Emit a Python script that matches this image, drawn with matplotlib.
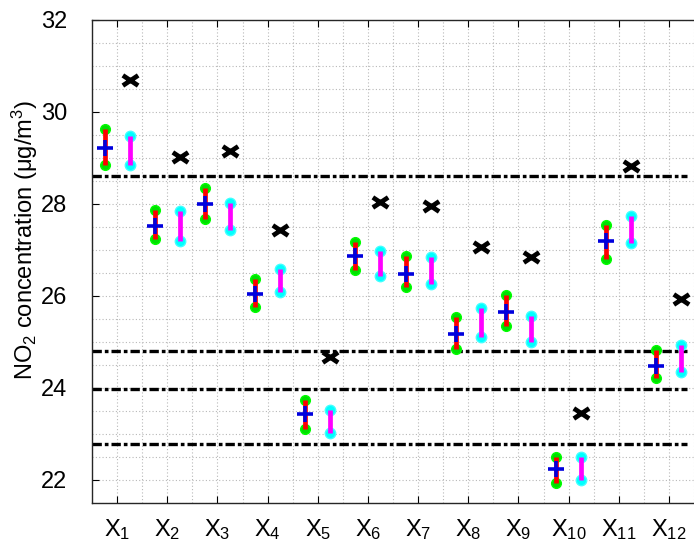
import matplotlib
matplotlib.use("Agg")
import matplotlib.pyplot as plt
from matplotlib.path import Path
from matplotlib.ticker import MultipleLocator
import numpy as np

plt.rcParams["font.family"] = ["Liberation Sans", "DejaVu Sans"]
plt.rcParams["mathtext.fontset"] = "custom"
plt.rcParams["mathtext.rm"] = "Liberation Sans"
plt.rcParams["mathtext.it"] = "Liberation Sans:italic"
plt.rcParams["mathtext.default"] = "regular"

# Per-site NO2 estimates (ug/m3)
SITES = [f"X$_{{{i}}}$" for i in range(1, 13)]
RED_HI = [29.63, 27.88, 28.35, 26.37, 23.74, 27.17, 26.87, 25.54, 26.02, 22.51, 27.54, 24.82]
RED_LO = [28.85, 27.23, 27.68, 25.76, 23.11, 26.57, 26.19, 24.85, 25.35, 21.94, 26.80, 24.21]
RED_MID = [29.21, 27.53, 28.00, 26.04, 23.43, 26.86, 26.48, 25.18, 25.65, 22.24, 27.20, 24.48]
MAG_HI = [29.47, 27.84, 28.03, 26.58, 23.52, 26.98, 26.84, 25.73, 25.57, 22.51, 27.74, 24.93]
MAG_LO = [28.85, 27.20, 27.43, 26.08, 23.02, 26.43, 26.26, 25.11, 25.00, 22.00, 27.15, 24.35]
MEASURED = [30.69, 29.03, 29.16, 27.43, 24.68, 28.04, 27.95, 27.07, 26.84, 23.45, 28.83, 25.94]
THRESHOLDS = [28.6, 24.8, 23.97, 22.79]

OFFSET = 0.25
OUT_PNG = "out.png"


def main():
    fig = plt.figure(figsize=(6.94, 5.48), dpi=100)
    ax = fig.add_axes([92 / 694, 45 / 548, 602 / 694, 483 / 548])

    x = np.arange(1, len(SITES) + 1)
    xl = x - OFFSET
    xr = x + OFFSET

    # reference levels
    for level in THRESHOLDS:
        ax.plot([0.5, 12.36], [level, level], color="black", lw=2.4,
                linestyle=(0, (2.8, 0.9, 1.1, 0.9)), zorder=2)

    # left interval: red bar, green ends, blue centre
    ax.vlines(xl, RED_LO, RED_HI, color="#ff0000", lw=3.4, zorder=4)
    ax.plot(xl, RED_HI, "o", color="#00e000", ms=7, mec="#00ff00", zorder=3)
    ax.plot(xl, RED_LO, "o", color="#00e000", ms=7, mec="#00ff00", zorder=3)
    ax.plot(xl, RED_MID, "+", color="#0000dd", ms=11, mew=2.6, zorder=5)

    # right interval: magenta bar, cyan ends
    ax.vlines(xr, MAG_LO, MAG_HI, color="#ff00ff", lw=3.4, zorder=4)
    ax.plot(xr, MAG_HI, "o", color="#00ffff", ms=7.5, mec="#40ffff", zorder=3)
    ax.plot(xr, MAG_LO, "o", color="#00ffff", ms=7.5, mec="#40ffff", zorder=3)

    # measured values
    cross = Path([(-1.5, -1), (1.5, 1), (-1.5, 1), (1.5, -1)],
                 [Path.MOVETO, Path.LINETO, Path.MOVETO, Path.LINETO])
    ax.plot(xr, MEASURED, linestyle="none", marker=cross, color="black",
            ms=11, mew=3.4, zorder=5)

    ax.set_xlim(0.5, 12.5)
    ax.set_ylim(21.5, 32)
    ax.set_xticks(x)
    ax.set_xticklabels(SITES, fontsize=17)
    ax.set_yticks(np.arange(22, 33, 2))
    ax.tick_params(axis="y", labelsize=17, direction="in", length=5, pad=18)
    ax.tick_params(axis="x", direction="in", length=5, pad=10, top=True)
    ax.xaxis.set_minor_locator(MultipleLocator(0.5))
    ax.yaxis.set_minor_locator(MultipleLocator(0.5))
    ax.tick_params(which="minor", length=0)
    ax.grid(True, which="both", linestyle=(0, (1, 2)), color="#b8b8b8", lw=0.8)
    ax.set_axisbelow(True)
    ax.spines["right"].set_visible(False)
    for s in ("left", "bottom", "top"):
        ax.spines[s].set_linewidth(1.0)
        ax.spines[s].set_color("#262626")

    ax.set_ylabel(r"NO$_2$ concentration ($\mu$g/m$^3$)", fontsize=17)
    ax.yaxis.set_label_coords(-0.087, 0.545)

    fig.savefig(OUT_PNG, dpi=100)


if __name__ == "__main__":
    main()
